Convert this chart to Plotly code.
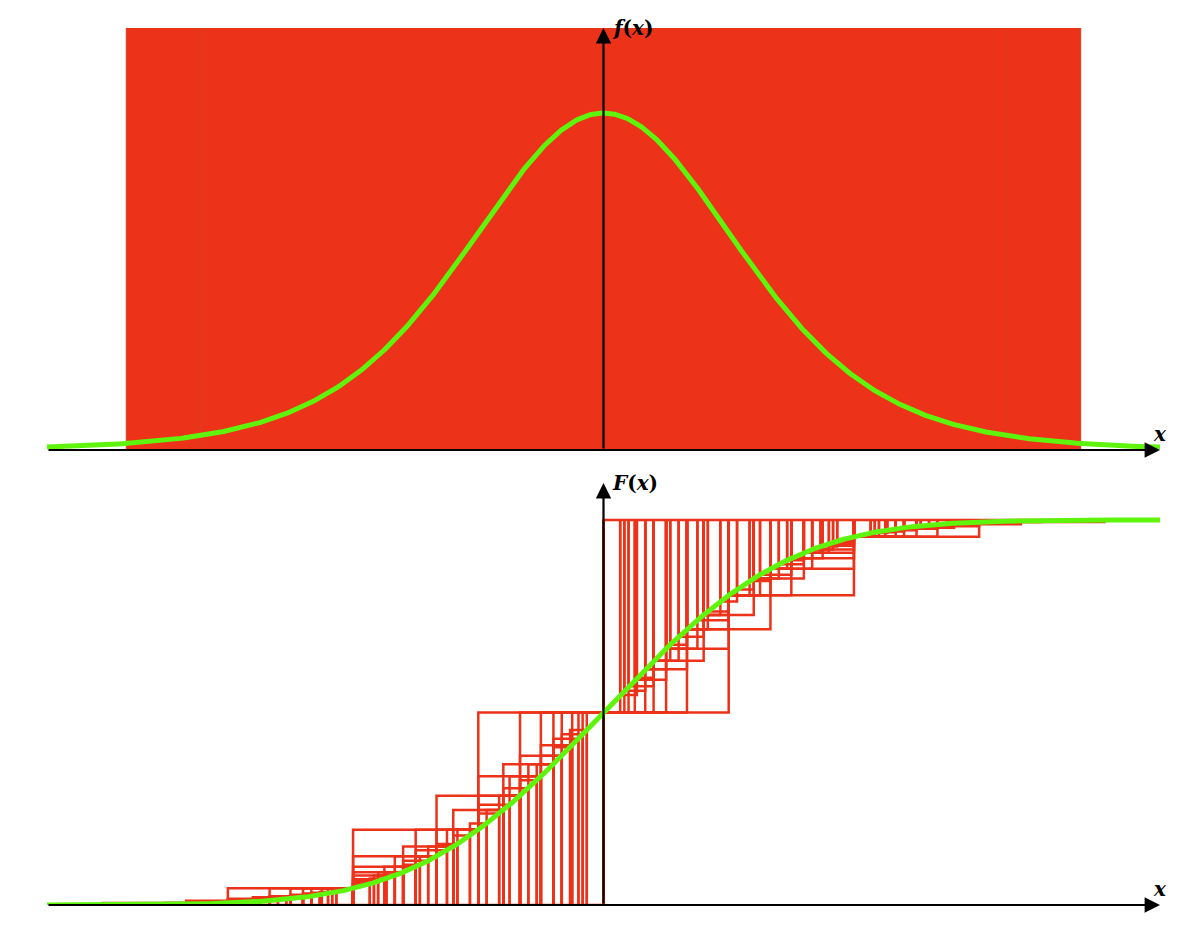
import numpy as np
import plotly.graph_objects as go
from math import erf, sqrt, pi, gamma

X_MIN, X_MAX = -4.0, 4.0
BAR_EDGES = [-3.43, -2.9, 0.0, 2.9, 3.43]
STEP_WIDTHS = [0.9, 0.6, 0.45, 0.36, 0.3, 0.225, 0.18, 0.15, 0.12]
T_DF = 7
SIGMA = 1.05

xs = np.linspace(X_MIN, X_MAX, 801)
c = gamma((T_DF+1)/2)/(sqrt(T_DF*pi)*gamma(T_DF/2))
pdf = c*(1+xs**2/T_DF)**(-(T_DF+1)/2)
PDF_PEAK = c
def F(v):
    return 0.5*(1+erf(v/(SIGMA*sqrt(2))))
cdf = np.array([F(v) for v in xs])

red = "#ec3219"; green = "#5ef40c"
OFF = 8
W, H = 1184, 928
top_px, base_px, peak_px = 28-OFF, 450-OFF, 113-OFF
y_top = PDF_PEAK*(base_px-top_px)/(base_px-peak_px)

fig = go.Figure()
for a, b in zip(BAR_EDGES[:-1], BAR_EDGES[1:]):
    fig.add_trace(go.Scatter(x=[a, a, b, b, a], y=[0, y_top, y_top, 0, 0], fill="toself",
                             fillcolor=red, line=dict(color="#dd3a20", width=1), mode="lines",
                             xaxis="x", yaxis="y", showlegend=False))
fig.add_trace(go.Scatter(x=[0, 0], y=[0, y_top], mode="lines", line=dict(color="#c83018", width=1),
                         xaxis="x", yaxis="y", showlegend=False))
fig.add_trace(go.Scatter(x=xs, y=pdf, mode="lines", line=dict(color=green, width=5),
                         xaxis="x", yaxis="y", showlegend=False))

bx, by = [], []
for h in STEP_WIDTHS:
    k = 1
    while k*h <= X_MAX + 1e-9:
        x = k*h
        a, b = max(-x, X_MIN), -x+h
        bx += [a, a, b, b, None]; by += [0, F(b), F(b), 0, None]
        a, b = x-h, min(x, X_MAX)
        bx += [a, a, b, b, None]; by += [1, F(a), F(a), 1, None]
        k += 1
fig.add_trace(go.Scatter(x=bx, y=by, mode="lines", line=dict(color=red, width=2.5),
                         xaxis="x2", yaxis="y2", showlegend=False))
fig.add_trace(go.Scatter(x=[X_MIN, 0, 0, X_MAX], y=[0, 0, 1, 1], mode="lines", line=dict(color=red, width=2.5),
                         xaxis="x2", yaxis="y2", showlegend=False))
fig.add_trace(go.Scatter(x=xs, y=cdf, mode="lines", line=dict(color=green, width=5),
                         xaxis="x2", yaxis="y2", showlegend=False))

ax = dict(range=[X_MIN, X_MAX], visible=False)
b2, one2, tip2 = 905-OFF, 520-OFF, 483-OFF
y2_top = (b2-tip2)/(b2-one2)
fig.update_layout(
    width=W, height=H, margin=dict(l=47-OFF, r=W-(1160-OFF), t=0, b=0),
    plot_bgcolor="white", paper_bgcolor="white",
    xaxis=dict(**ax, anchor="y"), xaxis2=dict(**ax, anchor="y2"),
    yaxis=dict(range=[0, y_top], domain=[(H-base_px)/H, (H-top_px)/H], visible=False),
    yaxis2=dict(range=[0, y2_top], domain=[(H-b2)/H, (H-tip2)/H], visible=False),
)
def arrow(x0, y0, x1, y1, xr, yr):
    fig.add_annotation(x=x1, y=y1, ax=x0, ay=y0, xref=xr, yref=yr, axref=xr, ayref=yr,
                       showarrow=True, arrowhead=2, arrowsize=1.4, arrowwidth=2.2, arrowcolor="black", text="")
arrow(X_MIN, 0, X_MAX, 0, "x", "y")
arrow(0, 0, 0, y_top, "x", "y")
arrow(X_MIN, 0, X_MAX, 0, "x2", "y2")
arrow(0, 0, 0, y2_top, "x2", "y2")
fnt = dict(family="DejaVu Serif", size=20, color="black")
fig.add_annotation(x=0.05, y=y_top, xref="x", yref="y", text="<b><i>f</i>(<i>x</i>)</b>", showarrow=False, xanchor="left", yanchor="middle", font=fnt)
fig.add_annotation(x=X_MAX, y=0, xref="x", yref="y", text="<b><i>x</i></b>", showarrow=False, xanchor="center", yanchor="bottom", yshift=2, font=fnt)
fig.add_annotation(x=0.05, y=y2_top, xref="x2", yref="y2", text="<b><i>F</i>(<i>x</i>)</b>", showarrow=False, xanchor="left", yanchor="middle", font=fnt)
fig.add_annotation(x=X_MAX, y=0, xref="x2", yref="y2", text="<b><i>x</i></b>", showarrow=False, xanchor="center", yanchor="bottom", yshift=2, font=fnt)
fig.write_html("out.html")
